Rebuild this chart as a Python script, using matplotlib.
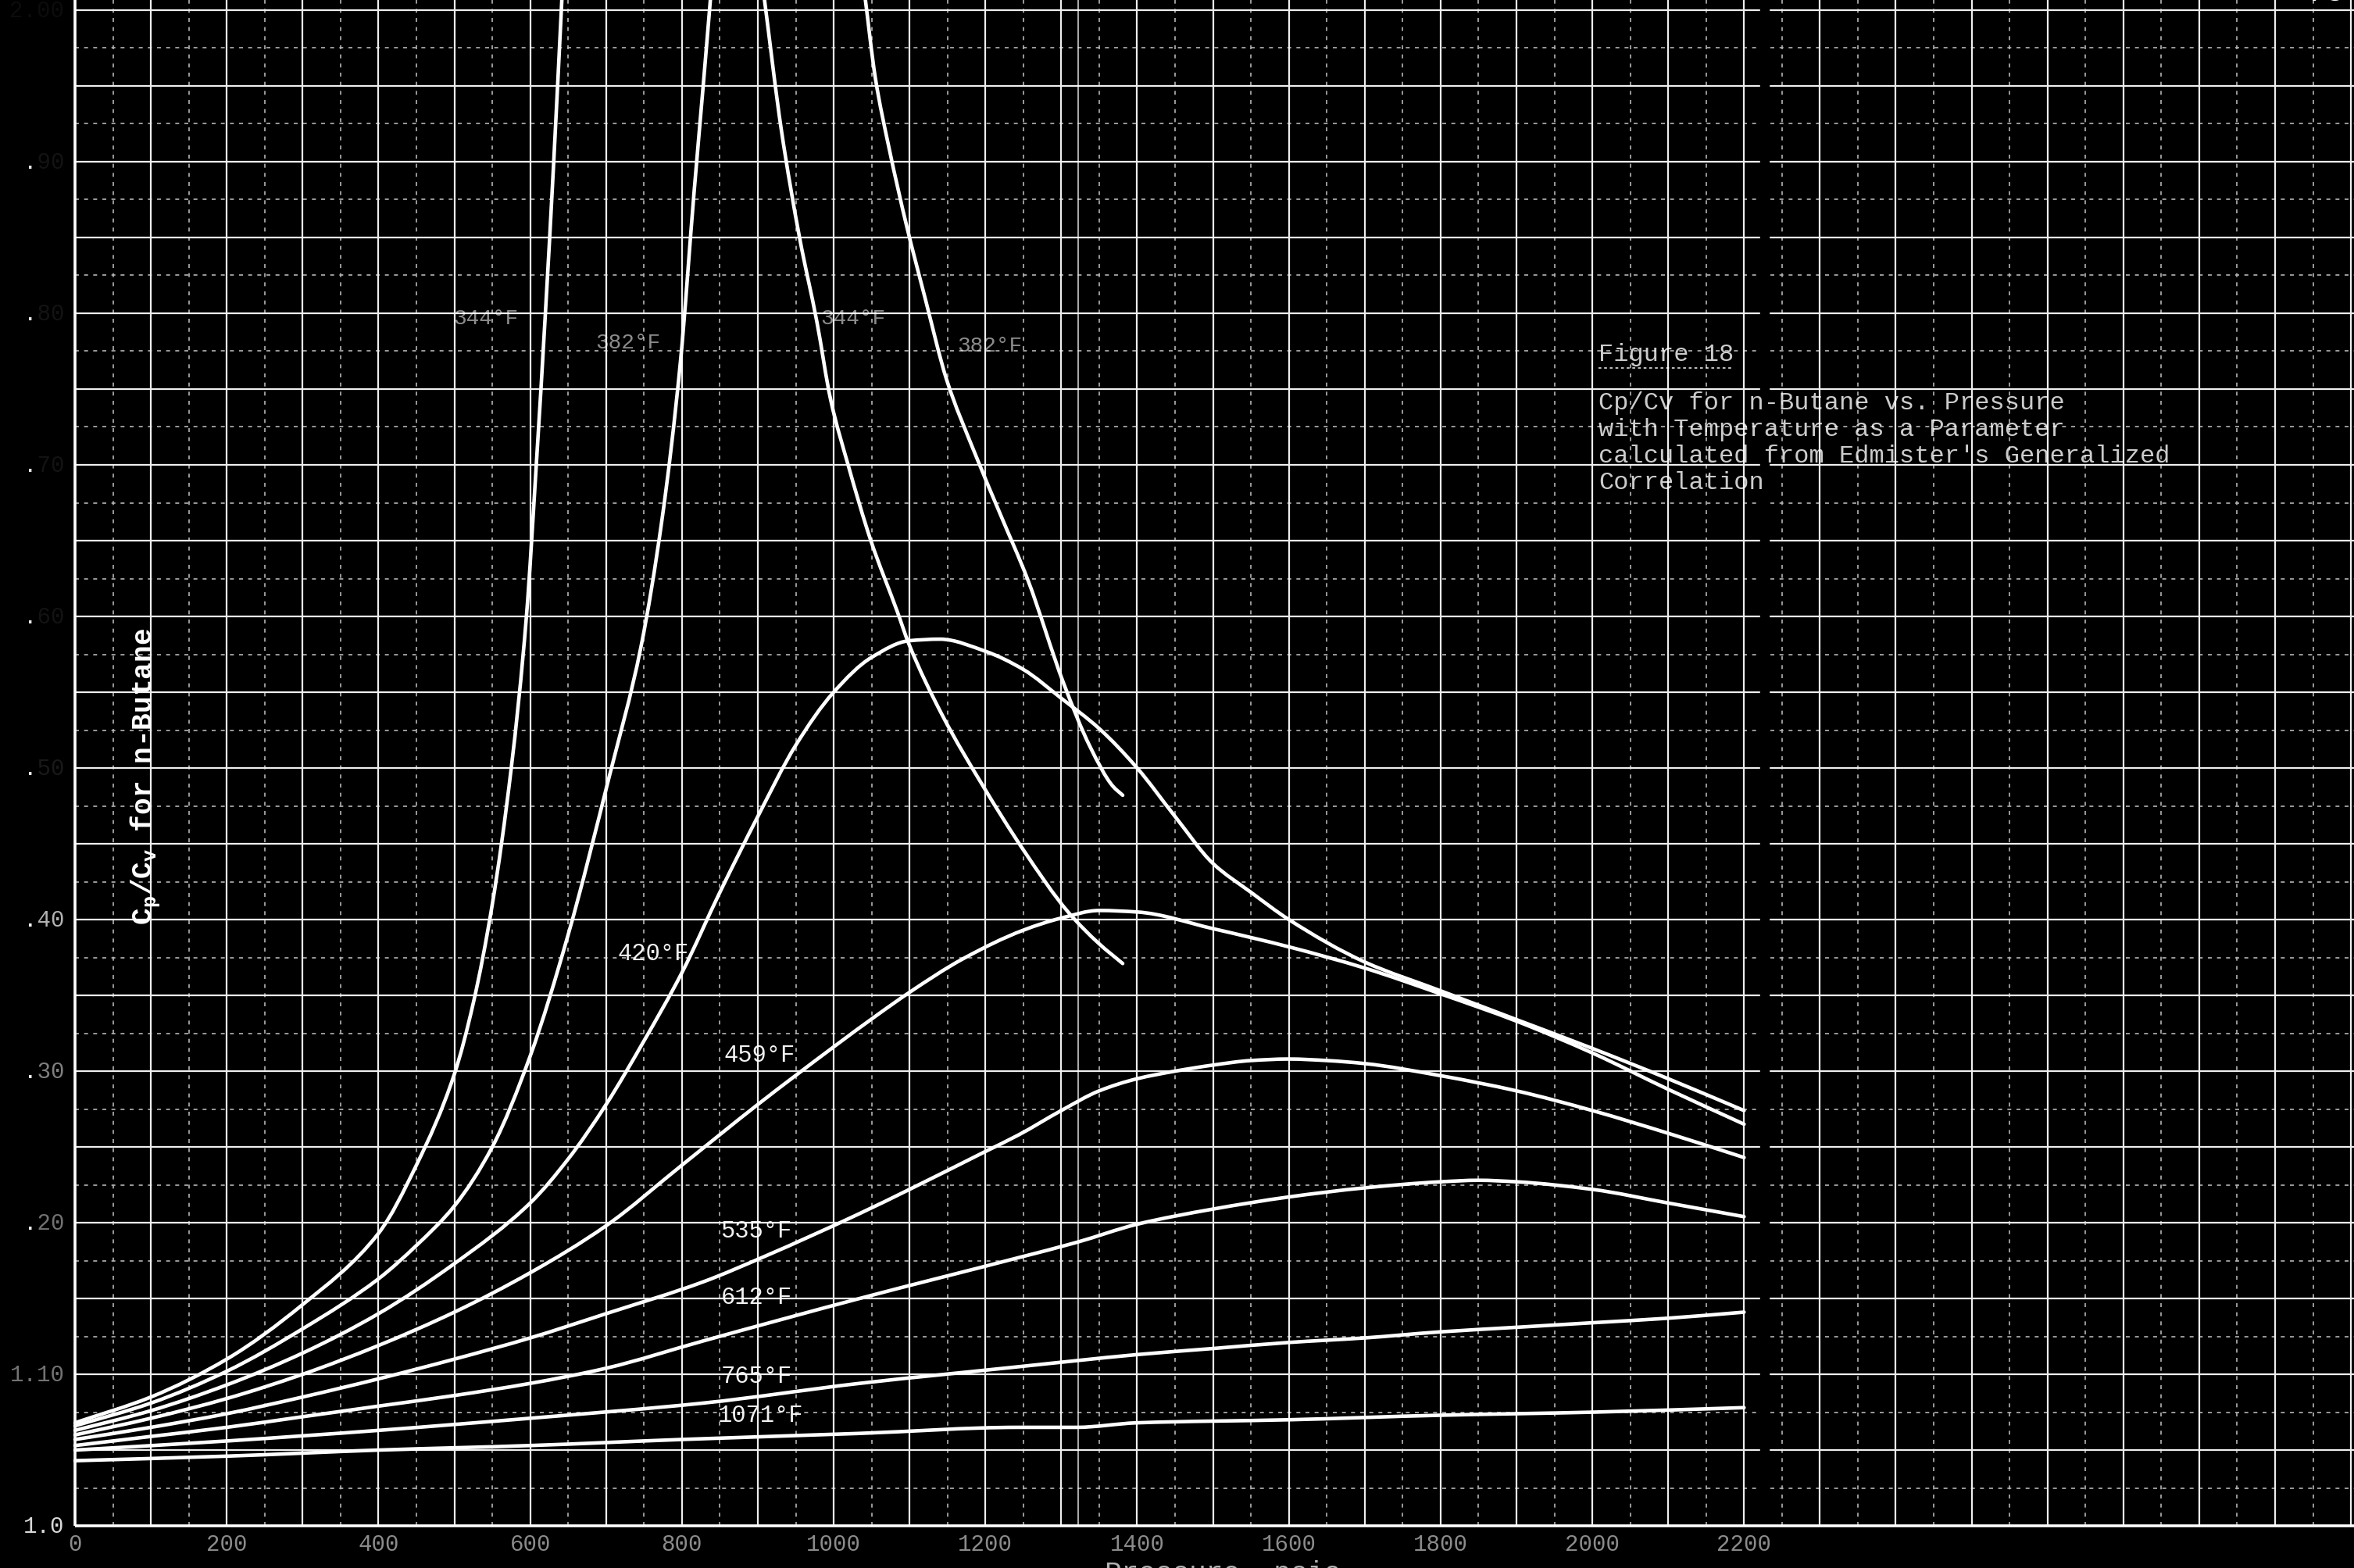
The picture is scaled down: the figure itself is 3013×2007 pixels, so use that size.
import matplotlib
matplotlib.use("Agg")
import matplotlib.pyplot as plt
from matplotlib.path import Path
from matplotlib.patches import PathPatch
import numpy as np

plt.rcParams["font.family"] = ["Liberation Mono", "DejaVu Sans Mono"]
plt.rcParams["mathtext.fontset"] = "custom"
plt.rcParams["mathtext.rm"] = "Liberation Mono:bold"
plt.rcParams["mathtext.it"] = "Liberation Mono:bold"

# ---- isotherms: pressure (psia) vs Cp/Cv for n-butane ----
p_344_a = [0, 100, 200, 300, 400, 450, 500, 525, 550, 575, 595, 608, 620, 631, 642]
k_344_a = [1.068, 1.085, 1.110, 1.146, 1.193, 1.238, 1.298, 1.345, 1.410, 1.500, 1.600,
           1.700, 1.800, 1.900, 2.010]
p_344_b = [908, 931, 955, 978, 996, 1019, 1049, 1084, 1099, 1143, 1197, 1250, 1309, 1350, 1381]
k_344_b = [2.010, 1.921, 1.850, 1.794, 1.743, 1.700, 1.650, 1.603, 1.582, 1.535, 1.488,
           1.446, 1.405, 1.384, 1.371]

p_382_a = [0, 100, 200, 300, 400, 450, 500, 550, 600, 650, 704, 746, 774, 798, 816, 828, 838]
k_382_a = [1.066, 1.081, 1.102, 1.130, 1.163, 1.185, 1.211, 1.250, 1.310, 1.390, 1.494,
           1.580, 1.665, 1.768, 1.880, 1.950, 2.010]
p_382_b = [1041, 1055, 1073, 1096, 1120, 1149, 1185, 1220, 1256, 1303, 1338, 1368, 1381]
k_382_b = [2.010, 1.955, 1.909, 1.858, 1.811, 1.756, 1.709, 1.667, 1.624, 1.556, 1.514,
           1.488, 1.482]

p_420 = [0, 100, 200, 300, 400, 500, 600, 650, 700, 750, 800, 850, 900, 950, 1000, 1050,
         1100, 1140, 1200, 1250, 1300, 1350, 1400, 1450, 1500, 1550, 1600, 1700, 1800, 1900,
         2000, 2100, 2200]
k_420 = [1.063, 1.076, 1.093, 1.114, 1.140, 1.173, 1.213, 1.242, 1.278, 1.320, 1.365, 1.418,
         1.468, 1.515, 1.550, 1.573, 1.584, 1.585, 1.577, 1.565, 1.546, 1.526, 1.500, 1.468,
         1.437, 1.418, 1.400, 1.372, 1.353, 1.334, 1.315, 1.295, 1.274]

p_459 = [0, 100, 200, 300, 400, 500, 600, 700, 800, 900, 1000, 1060, 1100, 1170, 1250, 1300,
         1350, 1400, 1500, 1600, 1700, 1800, 1900, 2000, 2100, 2200]
k_459 = [1.060, 1.071, 1.084, 1.100, 1.119, 1.141, 1.167, 1.198, 1.238, 1.278, 1.316, 1.338,
         1.352, 1.374, 1.393, 1.401, 1.406, 1.405, 1.394, 1.382, 1.368, 1.351, 1.333, 1.312,
         1.288, 1.265]

p_535 = [0, 100, 200, 300, 400, 500, 600, 700, 828, 910, 1034, 1100, 1200, 1244, 1300, 1350,
         1400, 1450, 1500, 1550, 1600, 1650, 1700, 1800, 1900, 2000, 2100, 2200]
k_535 = [1.057, 1.065, 1.074, 1.085, 1.097, 1.110, 1.124, 1.140, 1.161, 1.178, 1.206, 1.222,
         1.247, 1.258, 1.274, 1.287, 1.295, 1.300, 1.304, 1.307, 1.308, 1.307, 1.305, 1.297,
         1.287, 1.274, 1.259, 1.243]

p_612 = [0, 100, 200, 300, 400, 500, 600, 700, 828, 1034, 1244, 1320, 1400, 1500, 1600, 1700,
         1800, 1850, 1900, 2000, 2100, 2200]
k_612 = [1.053, 1.059, 1.065, 1.072, 1.079, 1.086, 1.094, 1.104, 1.122, 1.150, 1.177, 1.187,
         1.199, 1.209, 1.217, 1.223, 1.227, 1.228, 1.227, 1.222, 1.213, 1.204]

p_765 = [0, 200, 400, 600, 828, 1034, 1244, 1320, 1400, 1500, 1600, 1700, 1800, 1900, 2000,
         2100, 2200]
k_765 = [1.050, 1.056, 1.063, 1.071, 1.081, 1.094, 1.105, 1.109, 1.113, 1.117, 1.121, 1.124,
         1.128, 1.131, 1.134, 1.137, 1.141]

p_1071 = [0, 200, 400, 600, 800, 1034, 1244, 1320, 1400, 1600, 1800, 2000, 2200]
k_1071 = [1.043, 1.046, 1.050, 1.053, 1.057, 1.061, 1.065, 1.065, 1.068, 1.070, 1.073,
          1.075, 1.078]

curves = [(p_344_a, k_344_a), (p_344_b, k_344_b), (p_382_a, k_382_a), (p_382_b, k_382_b),
          (p_420, k_420), (p_459, k_459), (p_535, k_535), (p_612, k_612),
          (p_765, k_765), (p_1071, k_1071)]

# curve labels: text, pressure, Cp/Cv, faint?
curve_labels = [("344°F", 541, 1.797, True), ("382°F", 729, 1.781, True),
                ("344°F", 1026, 1.797, True), ("382°F", 1206, 1.779, True),
                ("420°F", 762, 1.378, False), ("459°F", 902, 1.311, False),
                ("535°F", 898, 1.195, False), ("612°F", 898, 1.151, False),
                ("765°F", 898, 1.099, False), ("1071°F", 904, 1.073, False)]

x_ticks = list(range(0, 2201, 200))
x_tick_labels = [str(v) for v in x_ticks]
y_ticks = [1.0, 1.1, 1.2, 1.3, 1.4, 1.5, 1.6, 1.7, 1.8, 1.9, 2.0]
y_tick_labels = ["1.0", "1.10", ".20", ".30", ".40", ".50", ".60", ".70", ".80", ".90", "2.00"]
y_tick_alpha = [0.85, 0.45, 0.45, 0.5, 0.7, 0.1, 0.08, 0.08, 0.08, 0.08, 0.05]

note_lines = ["Cp/Cv for n-Butane vs. Pressure",
              "with Temperature as a Parameter",
              "calculated from Edmister's Generalized",
              "Correlation"]


def smooth_path(x, y):
    """Monotone cubic (Fritsch-Carlson) Hermite curve through the points, as Bezier path."""
    x = np.asarray(x, float)
    y = np.asarray(y, float)
    h = np.diff(x)
    d = np.diff(y) / h
    m = np.empty_like(x)
    m[0], m[-1] = d[0], d[-1]
    for i in range(1, len(x) - 1):
        if d[i - 1] * d[i] <= 0:
            m[i] = 0.0
        else:
            w1 = 2 * h[i] + h[i - 1]
            w2 = h[i] + 2 * h[i - 1]
            m[i] = (w1 + w2) / (w1 / d[i - 1] + w2 / d[i])
    verts = [(x[0], y[0])]
    codes = [Path.MOVETO]
    for i in range(len(h)):
        verts += [(x[i] + h[i] / 3, y[i] + m[i] * h[i] / 3),
                  (x[i + 1] - h[i] / 3, y[i + 1] - m[i + 1] * h[i] / 3),
                  (x[i + 1], y[i + 1])]
        codes += [Path.CURVE4] * 3
    return Path(verts, codes)


# ---- figure: full-bleed axes on black graph paper ----
fig = plt.figure(figsize=(30.13, 20.08), dpi=100, facecolor="black")
ax = fig.add_axes([0, 0, 1, 1])
ax.set_facecolor("black")
ax.set_xlim(-98.9, 3004)
ax.set_ylim(0.9722, 2.0072)
ax.axis("off")

y_top = 2.0072
x_right = 3004
# graph paper ruling
ax.vlines(np.arange(50, 3001, 100), 1.0, y_top, colors="#b5b5b5", lw=1.2,
          linestyles=(0, (3, 4)), zorder=1)
ax.hlines(np.arange(1.025, 2.0, 0.05), 0, x_right, colors="#b5b5b5", lw=1.2,
          linestyles=(0, (3, 4)), zorder=1)
ax.vlines(np.arange(100, 3001, 100), 1.0, y_top, colors="#eeeeee", lw=1.6, zorder=2)
ax.hlines(np.arange(1.05, 2.01, 0.05), 0, x_right, colors="#eeeeee", lw=1.6, zorder=2)
# heavy border lines of the sheet
ax.vlines([0], 1.0, y_top, colors="white", lw=2.6, zorder=3)
ax.hlines([1.0], 0, x_right, colors="white", lw=2.6, zorder=3)
# splice of the two sheets
ax.vlines([1322], 1.0, y_top, colors="white", lw=1.2, alpha=0.8, zorder=2)
ax.axvspan(2221, 2233, color="black", zorder=2.5)

for p, k in curves:
    ax.add_patch(PathPatch(smooth_path(p, k), fill=False, edgecolor="white", lw=3.3,
                           capstyle="round", joinstyle="round", zorder=4))

for text, px, kv, faint in curve_labels:
    ax.text(px, kv, text, fontsize=20 if faint else 22, color="white",
            alpha=0.55 if faint else 0.95, ha="center", va="center", zorder=5)

for v, lab in zip(x_ticks, x_tick_labels):
    ax.text(v, 0.988, lab, fontsize=21, color="white", alpha=0.55, ha="center", va="center")

for v, lab, a in zip(y_ticks, y_tick_labels, y_tick_alpha):
    ax.text(-14, v, lab, fontsize=21, color="white", alpha=a, ha="right", va="center")
    if lab.startswith("."):
        ax.text(-14, v, "." + " " * (len(lab) - 1), fontsize=21, color="white",
                alpha=0.9, ha="right", va="center")

ax.text(92, 1.495, r"C$_\mathrm{p}$/C$_\mathrm{v}$ for n-Butane", fontsize=26,
        fontweight="bold", color="white", rotation=90, ha="center", va="center", zorder=5)

ax.text(1513, 0.9686, "Pressure, psia", fontsize=26, color="white", alpha=0.7,
        ha="center", va="center")

# figure caption
title = ax.text(2008, 1.773, "Figure 18", fontsize=23, color="white", alpha=0.8,
                ha="left", va="center", zorder=5)
for i, line in enumerate(note_lines):
    ax.text(2008, 1.741 - i * 0.0175, line, fontsize=23, color="white", alpha=0.8,
            ha="left", va="center", zorder=5)
fig.canvas.draw()
bb = title.get_window_extent()
inv = ax.transData.inverted()
(ux0, uy), (ux1, _) = inv.transform([[bb.x0, bb.y0 - 3], [bb.x1, bb.y0 - 3]])
ax.plot([ux0, ux1], [uy, uy], color="white", lw=1.3, ls=(0, (2, 2)), alpha=0.8, zorder=5)

fig.text(0.988, 0.995, "78", fontsize=30, color="white", ha="center", va="bottom")

fig.savefig("out.png", dpi=100, facecolor="black")
